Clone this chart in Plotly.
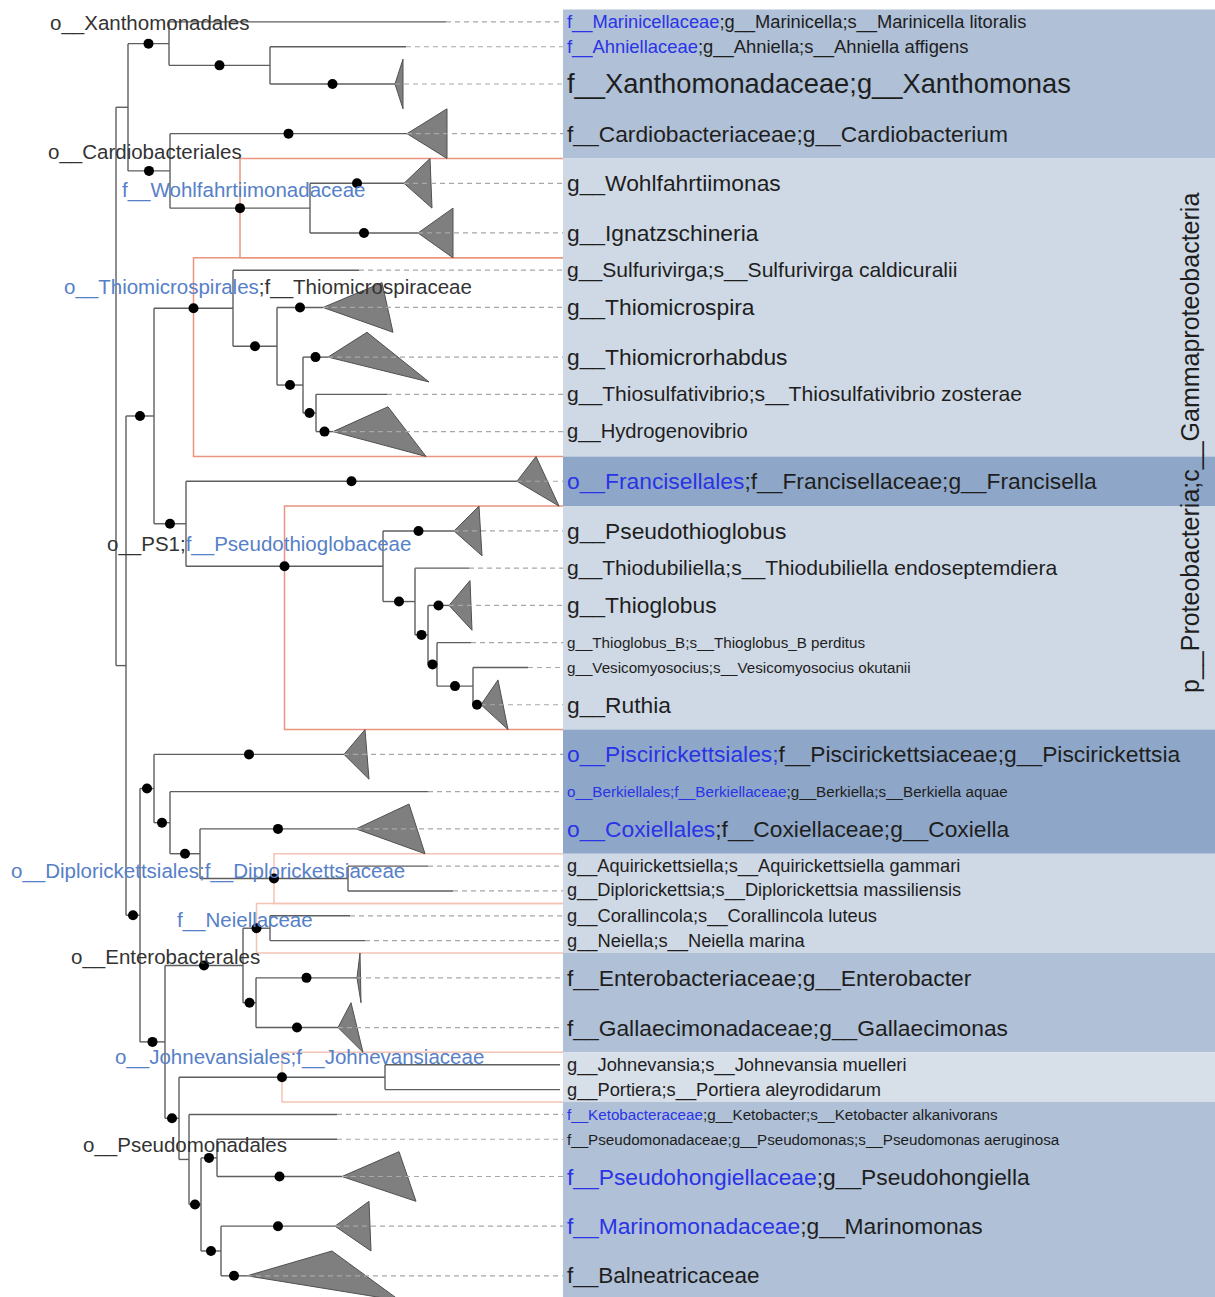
import plotly.graph_objects as go
import numpy as np

# ---------------- data ----------------
# internal nodes: name, parent, depth (x), support dot
node_name = ["R", "A", "AX", "AX2", "AC", "W", "B", "C", "T", "T2", "T3", "T4",
             "E", "P", "P2", "P3", "P4", "P5", "D", "F", "F2", "F3", "Dp",
             "G", "H", "Ne", "J", "I", "Jo", "K", "L", "M", "N"]
node_parent = [None, "R", "A", "AX", "A", "AC", "R", "B", "C", "T", "T2", "T3",
               "C", "E", "P", "P2", "P3", "P4", "B", "D", "F", "F2", "F3",
               "D", "G", "H", "H", "G", "I", "I", "K", "L", "L"]
node_depth = [116, 128, 169, 270, 170, 310, 126, 154, 233, 277, 303, 316,
              186, 383, 415, 428, 437, 473, 140, 154, 170, 200, 348,
              165, 243, 270, 256, 179, 385, 189, 201, 217, 221]
node_support = [0, 0, 1, 1, 1, 1, 0, 1, 1, 1, 1, 1,
                1, 1, 1, 1, 1, 1, 1, 1, 1, 1, 1,
                1, 1, 1, 1, 1, 1, 0, 1, 1, 1]

# tips (top to bottom)
tip_label = [
    "f__Marinicellaceae;g__Marinicella;s__Marinicella litoralis",
    "f__Ahniellaceae;g__Ahniella;s__Ahniella affigens",
    "f__Xanthomonadaceae;g__Xanthomonas",
    "f__Cardiobacteriaceae;g__Cardiobacterium",
    "g__Wohlfahrtiimonas",
    "g__Ignatzschineria",
    "g__Sulfurivirga;s__Sulfurivirga caldicuralii",
    "g__Thiomicrospira",
    "g__Thiomicrorhabdus",
    "g__Thiosulfativibrio;s__Thiosulfativibrio zosterae",
    "g__Hydrogenovibrio",
    "o__Francisellales;f__Francisellaceae;g__Francisella",
    "g__Pseudothioglobus",
    "g__Thiodubiliella;s__Thiodubiliella endoseptemdiera",
    "g__Thioglobus",
    "g__Thioglobus_B;s__Thioglobus_B perditus",
    "g__Vesicomyosocius;s__Vesicomyosocius okutanii",
    "g__Ruthia",
    "o__Piscirickettsiales;f__Piscirickettsiaceae;g__Piscirickettsia",
    "o__Berkiellales;f__Berkiellaceae;g__Berkiella;s__Berkiella aquae",
    "o__Coxiellales;f__Coxiellaceae;g__Coxiella",
    "g__Aquirickettsiella;s__Aquirickettsiella gammari",
    "g__Diplorickettsia;s__Diplorickettsia massiliensis",
    "g__Corallincola;s__Corallincola luteus",
    "g__Neiella;s__Neiella marina",
    "f__Enterobacteriaceae;g__Enterobacter",
    "f__Gallaecimonadaceae;g__Gallaecimonas",
    "g__Johnevansia;s__Johnevansia muelleri",
    "g__Portiera;s__Portiera aleyrodidarum",
    "f__Ketobacteraceae;g__Ketobacter;s__Ketobacter alkanivorans",
    "f__Pseudomonadaceae;g__Pseudomonas;s__Pseudomonas aeruginosa",
    "f__Pseudohongiellaceae;g__Pseudohongiella",
    "f__Marinomonadaceae;g__Marinomonas",
    "f__Balneatricaceae",
]
tip_blue = ["f__Marinicellaceae", "f__Ahniellaceae", "", "", "", "", "", "", "", "", "",
            "o__Francisellales", "", "", "", "", "", "",
            "o__Piscirickettsiales;", "o__Berkiellales;f__Berkiellaceae", "o__Coxiellales",
            "", "", "", "", "", "", "", "",
            "f__Ketobacteraceae", "", "f__Pseudohongiellaceae", "f__Marinomonadaceae", ""]
tip_parent = ["AX", "AX2", "AX2", "AC", "W", "W", "T", "T2", "T3", "T4", "T4",
              "E", "P", "P2", "P3", "P4", "P5", "P5", "F", "F2", "F3", "Dp", "Dp",
              "Ne", "Ne", "J", "J", "Jo", "Jo", "K", "M", "M", "N", "N"]
tip_depth = [446, 406, 395, 407, 404, 418, 359, 323, 328, 387, 333,
             517, 454, 469, 449, 471, 528, 481, 344, 428, 356, 428, 453,
             350, 365, 357, 338, 560, 560, 337, 337, 342, 335, 247]
tip_support = [0, 0, 1, 1, 1, 1, 0, 1, 1, 0, 1,
               1, 1, 0, 1, 0, 0, 1, 1, 0, 1, 0, 0,
               0, 0, 1, 1, 0, 0, 0, 0, 1, 1, 1]
tip_weight = [1, 1, 2, 2, 2, 2, 1, 2, 2, 1, 2,
              2, 2, 1, 2, 1, 1, 2, 2, 1, 2, 1, 1,
              1, 1, 2, 2, 1, 1, 1, 1, 2, 2, 2]
tip_fontsize = [18.3, 18.4, 27.3, 22.8, 22.8, 22.8, 21.1, 22.8, 22.8, 21.1, 20.2,
                22.8, 22.8, 21.1, 22.8, 15.2, 15.2, 22.8, 22.8, 15.2, 22.8, 18.2, 18.2,
                18.3, 18.3, 22.8, 22.8, 18.3, 18.3, 15.2, 15.2, 22.8, 22.8, 22.5]
# collapsed clade triangles: far x of upper and lower vertex (None = single tip)
tri_top = [None, None, 403, 447, 430, 453, None, 382, 367, None, 388,
           536, 479, None, 470, None, None, 498, 365, None, 409, None, None,
           None, None, 360, 351, None, None, None, None, 399, 369, 332]
tri_bottom = [None, None, 403, 447, 432, 453, None, 393, 429, None, 426,
              559, 482, None, 472, None, None, 508, 369, None, 425, None, None,
              None, None, 361, 363, None, None, None, None, 416, 371, 400]

# highlighted clades
hl_clade = ["W", "T", "P", "Dp", "Ne", "Jo"]
hl_color = ["#e9957f", "#e9957f", "#e9957f", "#f3c3b5", "#f3c3b5", "#f3c3b5"]

# background bands of label panel (number of tips per band)
band_size = [4, 7, 1, 6, 3, 4, 2, 2, 5]
band_color = ["#afc0d7", "#cfd9e5", "#8ea7c8", "#cfd9e5", "#8ea7c8", "#cfd9e5",
              "#afc0d7", "#d7dfe9", "#afc0d7"]

# clade text labels in tree area: (text parts [(text, blue?)], x, y-row)
clade_text = [
    [("o__Xanthomonadales", 0)],
    [("o__Cardiobacteriales", 0)],
    [("f__Wohlfahrtiimonadaceae", 1)],
    [("o__Thiomicrospirales", 1), (";f__Thiomicrospiraceae", 0)],
    [("o__PS1;", 0), ("f__Pseudothioglobaceae", 1)],
    [("o__Diplorickettsiales;f__Diplorickettsiaceae", 1)],
    [("f__Neiellaceae", 1)],
    [("o__Enterobacterales", 0)],
    [("o__Johnevansiales;f__Johnevansiaceae", 1)],
    [("o__Pseudomonadales", 0)],
]
clade_text_x = [48, 46, 120, 62, 105, 9, 175, 69, 113, 81]
clade_text_row = [0.54, 5.74, 7.27, 11.18, 21.53, 34.69, 36.67, 38.16, 42.19, 45.73]

title_text = "p__Proteobacteria;c__Gammaproteobacteria"

# ---------------- layout constants ----------------
W, H = 1215, 1297
ROW = 24.83
TOP = 9.5
PANEL_X = 563
LABEL_X = 565
FONT = "Liberation Sans, Arial, Helvetica, sans-serif"
BLUE_LAB = "#2a33e6"
BLUE_TREE = "#5680c8"
TXT = "#1e1e1e"

# ---------------- compute layout ----------------
depth = dict(zip(node_name, node_depth))
parent = dict(zip(node_name, node_parent))
support = dict(zip(node_name, node_support))
children = {n: [] for n in node_name}
ypos = {}
w = np.array(tip_weight, dtype=float)
cum = np.cumsum(w)
tip_row = cum - w / 2
for i, lab in enumerate(tip_label):
    key = "tip%d" % i
    depth[key] = tip_depth[i]
    parent[key] = tip_parent[i]
    support[key] = tip_support[i]
    ypos[key] = tip_row[i]
    children[tip_parent[i]].append(key)
for n, p in zip(node_name, node_parent):
    if p is not None:
        children[p].append(n)


def get_y(n):
    if n not in ypos:
        ypos[n] = float(np.mean([get_y(c) for c in children[n]]))
    return ypos[n]


def tips_of(n):
    if n.startswith("tip"):
        return [int(n[3:])]
    out = []
    for c in children[n]:
        out += tips_of(c)
    return out


get_y("R")

lx, ly = [], []
dx, dy = [], []
for n in depth:
    p = parent[n]
    if p is not None:
        lx += [depth[p], depth[n], None]
        ly += [ypos[n], ypos[n], None]
        if support[n]:
            dx.append((depth[p] + depth[n]) / 2)
            dy.append(ypos[n])
    if not n.startswith("tip"):
        cy = [ypos[c] for c in children[n]]
        lx += [depth[n], depth[n], None]
        ly += [min(cy), max(cy), None]

fig = go.Figure()

# background bands
start = 0
shapes = []
for s, col in zip(band_size, band_color):
    shapes.append(dict(type="rect", xref="x", yref="y", x0=PANEL_X, x1=W,
                       y0=cum[start] - w[start], y1=cum[start + s - 1],
                       fillcolor=col, line=dict(width=0), layer="below"))
    start += s

# highlight boxes
for c, col in zip(hl_clade, hl_color):
    t = tips_of(c)
    top = min(cum[i] - w[i] for i in t)
    bot = max(cum[i] for i in t)
    left = (depth[parent[c]] + depth[c]) / 2
    fig.add_trace(go.Scatter(x=[PANEL_X, left, left, PANEL_X], y=[top, top, bot, bot],
                             mode="lines", line=dict(color=col, width=1.5),
                             hoverinfo="skip", showlegend=False))

# tree lines
fig.add_trace(go.Scatter(x=lx, y=ly, mode="lines", line=dict(color="#5e5e5e", width=1.4),
                         hoverinfo="skip", showlegend=False))

# collapsed triangles
for i in range(len(tip_label)):
    if tri_top[i] is None:
        continue
    y = tip_row[i]
    h = w[i] / 2
    fig.add_trace(go.Scatter(x=[tip_depth[i], tri_top[i], tri_bottom[i], tip_depth[i]],
                             y=[y, y - h, y + h, y], mode="lines", fill="toself",
                             fillcolor="#7f7f7f", line=dict(color="#505050", width=1),
                             hoverinfo="skip", showlegend=False))

# dashed guide lines
gx, gy = [], []
for i in range(len(tip_label)):
    if tip_depth[i] < PANEL_X - 5:
        gx += [tip_depth[i], PANEL_X, None]
        gy += [tip_row[i], tip_row[i], None]
fig.add_trace(go.Scatter(x=gx, y=gy, mode="lines",
                         line=dict(color="#a8a8a8", width=1.2, dash="5px,4px"),
                         hoverinfo="skip", showlegend=False))

# support dots
fig.add_trace(go.Scatter(x=dx, y=dy, mode="markers",
                         marker=dict(color="black", size=10, line=dict(width=0)),
                         hoverinfo="skip", showlegend=False))

annotations = []
for i, lab in enumerate(tip_label):
    pre = tip_blue[i]
    if pre:
        txt = "<span style='color:%s'>%s</span>%s" % (BLUE_LAB, pre, lab[len(pre):])
    else:
        txt = lab
    annotations.append(dict(x=LABEL_X, y=tip_row[i], xref="x", yref="y", text=txt,
                            showarrow=False, xanchor="left", yanchor="middle",
                            font=dict(family=FONT, size=tip_fontsize[i], color=TXT)))

for parts, x, r in zip(clade_text, clade_text_x, clade_text_row):
    txt = "".join("<span style='color:%s'>%s</span>" % (BLUE_TREE if b else "#333333", t)
                  for t, b in parts)
    annotations.append(dict(x=x, y=r, xref="x", yref="y", text=txt, showarrow=False,
                            xanchor="left", yanchor="middle",
                            font=dict(family=FONT, size=20.5, color="#333333")))

annotations.append(dict(x=1190, y=(443 - TOP) / ROW, xref="x", yref="y", text=title_text,
                        showarrow=False, textangle=-90, xanchor="center", yanchor="middle",
                        font=dict(family=FONT, size=25, color=TXT)))

ytop = -TOP / ROW
fig.update_layout(
    width=W, height=H, margin=dict(l=0, r=0, t=0, b=0),
    paper_bgcolor="white", plot_bgcolor="white",
    xaxis=dict(range=[0, W], visible=False, fixedrange=True),
    yaxis=dict(range=[ytop + H / ROW, ytop], visible=False, fixedrange=True),
    shapes=shapes, annotations=annotations, showlegend=False,
)

fig.write_html("out.html", config={"displayModeBar": False},
               post_script="document.body.style.margin='0';")
